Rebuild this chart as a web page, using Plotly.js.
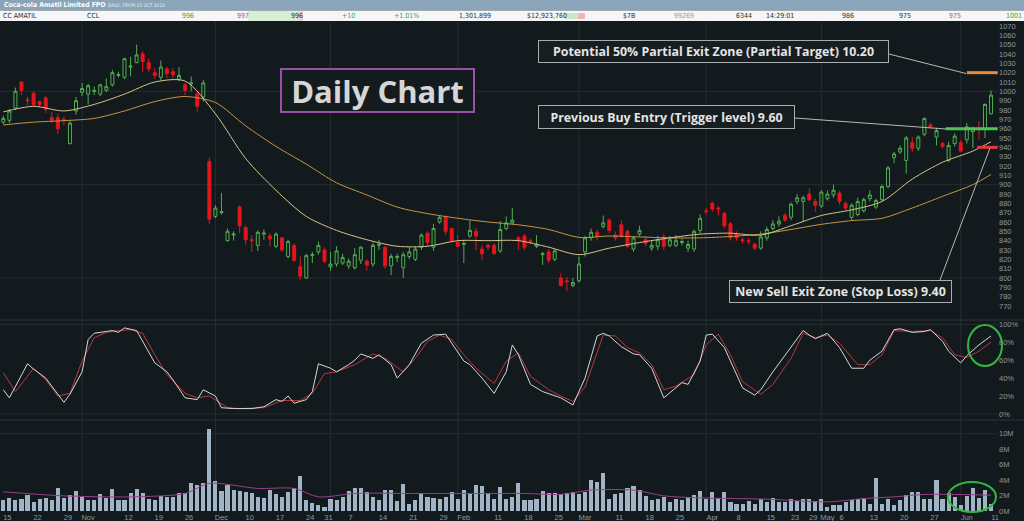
<!DOCTYPE html>
<html><head><meta charset="utf-8">
<script src="https://cdn.plot.ly/plotly-3.0.1.min.js"></script>
<style>html,body{margin:0;padding:0;background:#131a1d;overflow:hidden}#chart{width:1024px;height:521px}</style>
</head><body><div id="chart"></div>
<script>
// ---- DATA (prices in cents, trading-day index 0 = 15 Oct 2018) ----
const openP = [967,969,982,1010,991,998,989,993,972,972,970,944,979,999,997,1000,997,1001,1007,1017,1015,1026,1031,1040,1031,1020,1015,1024,1021,1013,1007,1008,997,994,925,866,870,840,846,876,854,841,835,847,845,834,843,823,835,812,800,824,828,830,812,815,816,813,811,819,818,815,835,833,813,822,811,823,820,833,848,833,860,866,853,838,836,845,850,831,835,835,829,853,859,843,845,840,834,825,828,820,800,797,792,797,828,843,849,855,862,846,857,850,831,847,841,832,834,844,835,835,838,832,831,851,872,880,875,869,858,847,841,840,836,832,843,853,858,867,865,882,882,890,882,877,885,889,891,880,865,868,872,885,876,884,898,929,935,926,945,939,954,964,951,944,926,944,945,948,957,961,960,976];
const highP = [974,981,1004,1011,994,1000,990,995,978,976,973,968,994,1009,1008,1005,1008,1014,1023,1021,1036,1037,1050,1043,1035,1025,1033,1026,1025,1026,1009,1016,1000,1012,929,878,891,853,850,878,856,846,851,852,848,849,844,841,837,823,826,828,839,833,828,834,826,821,832,834,820,838,841,834,826,826,828,833,834,848,850,858,867,867,854,846,841,862,854,835,837,837,861,866,875,845,847,842,846,828,831,831,805,801,800,823,845,853,852,867,864,850,862,852,845,856,845,840,845,847,845,846,842,840,852,868,875,882,877,871,860,850,843,843,838,850,855,862,866,870,881,890,888,896,885,894,894,900,893,882,880,886,886,894,885,900,920,935,942,952,951,953,972,966,961,946,946,955,948,966,962,968,987,1001];
const lowP = [965,966,980,996,985,984,983,977,966,954,964,943,975,995,986,996,995,999,1005,1015,1013,1016,1030,1021,1021,1013,1012,1014,1014,1011,996,1000,978,989,858,864,868,839,840,848,835,828,829,841,834,832,828,821,817,798,799,816,825,816,808,812,814,810,809,815,808,812,830,810,803,817,800,820,818,830,834,829,858,846,838,833,816,843,830,819,830,825,827,851,857,830,830,836,832,814,816,818,791,786,790,795,823,840,840,853,848,840,843,832,828,845,834,829,830,830,833,833,835,828,828,848,868,871,867,853,840,840,837,836,830,830,840,851,855,860,862,879,860,882,871,875,883,886,879,872,862,866,870,882,874,882,896,923,933,912,935,936,952,960,942,939,924,941,935,944,939,948,950,975];
const closeP = [971,979,1000,1001,990,986,986,981,969,960,969,966,990,1003,1006,1001,1007,1005,1020,1018,1035,1027,1039,1032,1024,1017,1026,1019,1018,1017,1001,1009,984,1009,863,875,871,850,847,856,841,840,849,848,842,847,830,839,819,802,824,825,835,818,815,829,822,818,825,833,814,835,836,813,823,823,825,828,831,846,838,853,865,850,840,834,837,851,845,826,833,826,852,859,862,840,833,839,836,826,819,829,792,796,795,815,843,849,845,859,851,843,845,834,843,851,837,835,841,834,841,840,839,836,850,864,871,874,874,856,843,843,840,839,832,844,852,858,861,862,879,886,886,884,878,892,890,894,882,875,878,882,884,889,883,898,918,933,939,950,939,951,971,962,958,941,942,952,936,962,960,960,986,996];
const volumeM = [1.40,1.70,1.40,1.61,2.05,1.18,1.53,1.70,1.40,2.92,1.70,2.05,2.57,1.83,1.40,1.40,2.14,1.70,2.83,1.40,1.40,2.27,2.83,2.27,1.53,1.40,1.96,1.83,1.83,2.27,2.27,3.57,3.36,3.57,10.55,3.88,2.57,3.36,2.70,2.61,2.48,2.27,1.79,1.70,2.70,2.14,1.83,2.48,2.92,4.53,1.40,1.09,0.83,0.48,1.61,1.40,1.83,2.57,2.92,2.92,2.48,1.83,1.40,2.70,2.70,1.27,3.49,0.96,1.40,2.27,1.83,1.70,1.61,1.83,2.40,1.61,2.70,2.14,3.36,3.23,2.27,1.61,3.14,1.61,1.83,3.57,1.40,1.40,1.61,2.57,2.27,2.27,2.14,2.27,2.40,2.14,2.48,4.01,3.71,4.88,1.53,2.14,2.27,3.01,3.27,2.70,1.96,1.40,1.61,1.83,1.18,1.61,1.40,1.83,2.05,2.57,1.53,2.40,1.70,2.40,1.18,0.96,0.96,1.27,0.96,1.53,1.18,1.70,1.18,1.18,1.61,1.27,1.53,1.61,1.27,1.53,0.52,0.83,0.83,1.18,1.40,1.61,1.70,0.96,4.23,0.96,1.53,0.83,1.40,2.05,2.48,2.48,1.61,1.53,3.97,1.53,2.27,1.83,0.83,1.96,2.92,1.70,2.70,0.96];

const maIdx = [0,5,10,15,20,25,30,35,40,45,50,55,60,65,70,75,80,85,90,95,100,105,110,115,120,125,130,135,140,145,150,155,160,163];
const maFast = [978,984,979,986,997,1010,1011,976,928,894,866,851,841,834,834,840,840,840,833,825,832,838,843,847,848,846,856,867,873,882,906,924,936,946];
const maSlow = [964,967,968.6,971,979,989,994.5,988,963,941,922,902,889,876,869,864,860,857,852,843.5,845,844,843,843,844.5,847,852,857.5,861.5,864,875,887.5,900,911];

// stochastic %K / %D
const kIdx = [0,1,4,5,7,8,10,11,13,14,15,17,18,19,20,22,23,25,27,28,30,32,33,35,36,38,41,43,45,46,47,48,50,51,52,54,55,57,58,59,61,62,64,65,67,69,71,73,74,76,77,79,81,83,84,85,87,89,92,94,96,98,99,100,102,104,105,107,109,111,112,113,115,116,117,119,121,122,124,125,127,130,132,133,134,136,138,140,142,143,145,147,148,150,152,153,155,156,158,159,161,163];
const kVal = [27,18,56,50,40,31,13,22,47,83,90,92,93,91,96,93,81,57,47,38,18,16,27,20,7,6,6,8,16,14,20,12,16,25,56,51,47,55,60,67,62,66,55,40,55,79,88,89,79,59,55,40,23,47,77,66,33,25,18,10,40,87,90,87,75,67,66,51,18,29,35,33,59,88,89,74,44,29,21,27,47,74,93,88,84,90,74,51,51,60,70,94,95,91,92,94,81,70,57,65,77,87];
const dIdx = [0,2,4,5,7,9,11,13,15,17,19,21,23,25,27,30,32,34,37,39,43,46,49,51,53,55,58,61,63,66,68,70,72,74,76,78,81,83,85,87,90,92,94,96,99,101,103,105,107,109,111,114,116,118,120,122,125,127,130,132,134,136,138,141,143,145,147,150,153,155,157,159,161,163];
const dVal = [46,25,42,51,38,20,23,59,85,91,93,94,90,66,44,23,18,20,7,6,7,15,15,23,45,47,55,67,62,47,62,81,88,83,66,51,34,59,68,42,27,20,14,30,88,87,74,68,55,27,31,44,77,89,66,36,22,33,62,90,85,88,79,55,55,66,93,92,93,85,66,63,70,80];

// volume moving average
const vmaIdx = [0,10,21,30,34,42,48,52,58,67,73,80,86,92,97,104,109,115,126,136,142,147,152,157,163];
const vmaVal = [2.48,1.96,1.83,2.27,3.57,2.92,2.92,1.83,2.27,2.27,2.27,2.27,2.27,2.14,2.70,2.70,1.96,1.70,1.53,1.18,1.61,1.83,2.14,2.14,2.05];

// trade levels (cents) and the trading day each drawn level starts at
const levelNames = ['Potential 50% Partial Exit Zone (Partial Target) 10.20','Previous Buy Entry (Trigger level) 9.60','New Sell Exit Zone (Stop Loss) 9.40'];
const levelPrice = [1020, 960, 940];
const levelFrom = [159, 155.5, 160.7];
const levelColor = ['#ee8a3c', '#4cc552', '#e8353b'];

// axis ticks
const xTickIdx = [0,5,10,13,20,25,30,35,40,45,50,53,57,62,67,72,75,81,86,91,95,101,106,111,116,121,126,130,133,135,138,143,148,153,158,163];
const xTickText = ['15','22','29','Nov','12','19','26','Dec','10','17','24','31','7','14','21','29','Feb','11','18','25','Mar','11','18','25','Apr','8','15','23','29','May','6','13','20','27','Jun','11'];
const monthIdx = [13,35,54,75,95,116,135,158];
const priceTicks = [770,780,790,800,810,820,830,840,850,860,870,880,890,900,910,920,930,940,950,960,970,980,990,1000,1010,1020,1030,1040,1050,1060,1070];
const priceGrid = [800,900,1000];
const stochTicks = [0,20,40,60,80,100];
const volTicks = [0,2,4,6,8,10];

// ---- LAYOUT HELPERS ----
const W = 1024, H = 521;
const px = x => x / W;
const py = y => 1 - y / H;
const idx = closeP.map((_, i) => i);
const axisFont = {family: 'Liberation Sans, Arial, sans-serif', size: 7.5, color: '#8e989d'};
const gridCol = '#252d31';

const traces = [];
traces.push({type: 'candlestick', x: idx, open: openP, high: highP, low: lowP, close: closeP,
  xaxis: 'x', yaxis: 'y', whiskerwidth: 0, hoverinfo: 'skip',
  increasing: {line: {color: '#4fae4f', width: 1}, fillcolor: 'rgba(0,0,0,0)'},
  decreasing: {line: {color: '#e3161d', width: 1}, fillcolor: '#e3161d'}});
traces.push({type: 'scatter', mode: 'lines', x: maIdx, y: maSlow, yaxis: 'y',
  line: {color: '#c8963f', width: 1, shape: 'spline', smoothing: 0.8}, hoverinfo: 'skip'});
traces.push({type: 'scatter', mode: 'lines', x: maIdx, y: maFast, yaxis: 'y',
  line: {color: '#d6c48c', width: 1, shape: 'spline', smoothing: 0.8}, hoverinfo: 'skip'});
for (let k = 0; k < levelPrice.length; k++) {
  traces.push({type: 'scatter', mode: 'lines', x: [levelFrom[k], 164.1], y: [levelPrice[k], levelPrice[k]], yaxis: 'y',
    line: {color: levelColor[k], width: 3}, hoverinfo: 'skip'});
}
traces.push({type: 'scatter', mode: 'lines', x: dIdx, y: dVal, yaxis: 'y2',
  line: {color: '#b8393a', width: 1}, hoverinfo: 'skip'});
traces.push({type: 'scatter', mode: 'lines', x: kIdx, y: kVal, yaxis: 'y2',
  line: {color: '#d3d8da', width: 1}, hoverinfo: 'skip'});
traces.push({type: 'bar', x: idx, y: volumeM, yaxis: 'y3', width: 0.68,
  marker: {color: '#a0b4c5', line: {width: 0}}, hoverinfo: 'skip'});
traces.push({type: 'scatter', mode: 'lines', x: vmaIdx, y: vmaVal, yaxis: 'y3',
  line: {color: '#94418a', width: 1, shape: 'spline', smoothing: 0.8}, hoverinfo: 'skip'});

const shapes = [];
// header bars
shapes.push({type: 'rect', xref: 'paper', yref: 'paper', x0: 0, x1: 1, y0: py(10.5), y1: 1, fillcolor: '#8aa5b9', line: {width: 0}, layer: 'below'});
shapes.push({type: 'rect', xref: 'paper', yref: 'paper', x0: 0, x1: 1, y0: py(21), y1: py(10.5), fillcolor: '#f4f6f7', line: {width: 0}, layer: 'below'});
shapes.push({type: 'rect', xref: 'paper', yref: 'paper', x0: px(248), x1: px(300), y0: py(21), y1: py(11), fillcolor: '#d5efd5', line: {width: 0}, layer: 'below'});
shapes.push({type: 'rect', xref: 'paper', yref: 'paper', x0: px(298), x1: px(303), y0: py(21), y1: py(11), fillcolor: '#f3d2d2', line: {width: 0}, layer: 'below'});
shapes.push({type: 'rect', xref: 'paper', yref: 'paper', x0: px(564), x1: px(578), y0: py(19), y1: py(13), fillcolor: '#c9e8c9', line: {width: 0}, layer: 'below'});
shapes.push({type: 'rect', xref: 'paper', yref: 'paper', x0: px(578), x1: px(585), y0: py(19), y1: py(13), fillcolor: '#f1b5b5', line: {width: 0}, layer: 'below'});
// grid lines
priceGrid.forEach(v => shapes.push({type: 'line', xref: 'paper', yref: 'y', x0: 0, x1: px(998), y0: v, y1: v, line: {color: gridCol, width: 1}, layer: 'below'}));
monthIdx.forEach(v => shapes.push({type: 'line', xref: 'x', yref: 'paper', x0: v, x1: v, y0: py(511), y1: py(22), line: {color: gridCol, width: 1}, layer: 'below'}));
[0, 100].forEach(v => shapes.push({type: 'line', xref: 'paper', yref: 'y2', x0: 0, x1: px(998), y0: v, y1: v, line: {color: gridCol, width: 1}, layer: 'below'}));
shapes.push({type: 'line', xref: 'paper', yref: 'y3', x0: 0, x1: px(998), y0: 10, y1: 10, line: {color: gridCol, width: 1}, layer: 'below'});
[320, 420].forEach(v => shapes.push({type: 'line', xref: 'paper', yref: 'paper', x0: 0, x1: 1, y0: py(v), y1: py(v), line: {color: '#2c3539', width: 1}, layer: 'below'}));
// connectors from the note boxes to the levels
const conn = [[889, 54, 966, 73.5], [795, 118, 946, 129], [940, 280, 990, 148]];
conn.forEach(c => shapes.push({type: 'line', xref: 'paper', yref: 'paper', x0: px(c[0]), y0: py(c[1]), x1: px(c[2]), y1: py(c[3]), line: {color: '#b4b8ba', width: 1}}));
// green highlight circles
shapes.push({type: 'circle', xref: 'paper', yref: 'paper', x0: px(968), x1: px(1002), y0: py(366), y1: py(325), line: {color: '#33b542', width: 2}});
shapes.push({type: 'circle', xref: 'paper', yref: 'paper', x0: px(948), x1: px(996), y0: py(512), y1: py(482), line: {color: '#33b542', width: 2}});

const annotations = [];
const noteFont = {family: 'Open Sans, Lato, sans-serif', size: 12.4, color: '#e4e4e4', weight: 700};
annotations.push({xref: 'paper', yref: 'paper', x: px(377.5), y: py(90.5), xanchor: 'center', yanchor: 'middle', showarrow: false,
  text: 'Daily Chart', font: {family: 'Open Sans, Lato, sans-serif', size: 31, color: '#d6d6d6', weight: 700},
  bordercolor: '#9c4fa9', borderwidth: 2, borderpad: 0, width: 191, height: 41, bgcolor: '#141b1e'});
const noteBoxes = [[713.5, 51, 347, 19], [666.5, 116.5, 253, 20], [840.5, 291, 219, 19]];
noteBoxes.forEach((b, k) => annotations.push({xref: 'paper', yref: 'paper', x: px(b[0]), y: py(b[1]), xanchor: 'center', yanchor: 'middle', showarrow: false,
  text: levelNames[k], font: noteFont, bordercolor: '#a9adaf', borderwidth: 1, borderpad: 1, width: b[2], height: b[3], bgcolor: '#171e21'}));

// header text
const hdrFont = (c, s, w) => ({family: 'DejaVu Sans Condensed, Liberation Sans, sans-serif', size: s || 7, color: c || '#2b2b2b', weight: w || 400});
annotations.push({xref: 'paper', yref: 'paper', x: px(2), y: py(5.3), xanchor: 'left', yanchor: 'middle', showarrow: false,
  text: 'Coca-cola Amatil Limited FPO', font: hdrFont('#ffffff', 6.8, 700)});
annotations.push({xref: 'paper', yref: 'paper', x: px(106), y: py(5.6), xanchor: 'left', yanchor: 'middle', showarrow: false,
  text: 'DAILY, FROM 15 OCT 2018', font: hdrFont('#e8eef2', 4.8)});
const hdrRow = [[1,'CC AMATIL','#2b2b2b'],[85,'CCL','#2b2b2b'],[180,'996','#3aa43a'],[235,'997','#cc4b4b'],[289,'996','#2b2b2b'],[340,'+10','#3aa43a'],[392,'+1.01%','#3aa43a'],[457,'1,301,899','#2b2b2b'],[525,'$12,923,760','#2b2b2b'],[621,'$7B','#2b2b2b'],[672,'99269','#9a9a9a'],[734,'6344','#2b2b2b'],[764,'14:29:01','#2b2b2b'],[840,'986','#2b2b2b'],[897,'975','#2b2b2b'],[947,'975','#cc4b4b'],[1004,'1001','#3aa43a']];
hdrRow.forEach(h => annotations.push({xref: 'paper', yref: 'paper', x: px(h[0]), y: py(16), xanchor: 'left', yanchor: 'middle', showarrow: false,
  text: h[1], font: hdrFont(h[2], 7)}));

const layout = {
  width: W, height: H, margin: {l: 0, r: 0, t: 0, b: 0},
  paper_bgcolor: '#131a1d', plot_bgcolor: '#131a1d', showlegend: false,
  xaxis: {domain: [0, px(998)], range: [-0.545, 164.15], anchor: 'y3', showgrid: false, zeroline: false, showline: false,
    tickmode: 'array', tickvals: xTickIdx.map((v, i) => v + xTickText[i].length * 0.33), ticktext: xTickText,
    tickfont: axisFont, ticks: '', rangeslider: {visible: false}, fixedrange: true},
  yaxis: {domain: [py(320), py(22)], range: [755, 1074.3], side: 'right', anchor: 'x', showgrid: false, zeroline: false,
    tickmode: 'array', tickvals: priceTicks, ticktext: priceTicks.map(String), tickfont: axisFont, ticks: ''},
  yaxis2: {domain: [py(418), py(320)], range: [-4.5, 104.8], side: 'right', anchor: 'x', showgrid: false, zeroline: false,
    tickmode: 'array', tickvals: stochTicks, ticktext: stochTicks.map(v => v + '%'), tickfont: axisFont, ticks: ''},
  yaxis3: {domain: [py(511), py(420)], range: [0, 11.77], side: 'right', anchor: 'x', showgrid: false, zeroline: false,
    tickmode: 'array', tickvals: volTicks, ticktext: volTicks.map(v => v + 'M'), tickfont: axisFont, ticks: ''},
  bargap: 0, shapes: shapes, annotations: annotations
};
Plotly.newPlot('chart', traces, layout, {displayModeBar: false, staticPlot: true});
</script></body></html>
